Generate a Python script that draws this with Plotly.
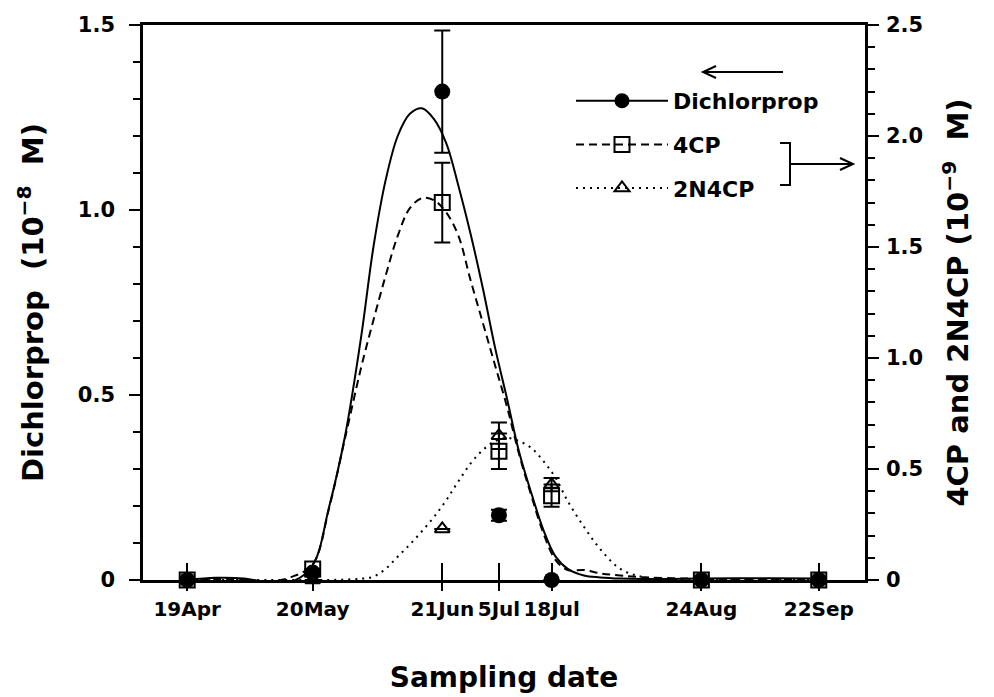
import plotly.graph_objects as go

# ---------------- data ----------------
sample_dates = ["2001-04-19", "2001-05-20", "2001-06-21", "2001-07-05",
                "2001-07-18", "2001-08-24", "2001-09-22"]
tick_labels = ["19Apr", "20May", "21Jun", "5Jul", "18Jul", "24Aug", "22Sep"]

dichlorprop = [0, 0.02, 1.32, 0.175, 0, 0, 0]
dichlorprop_err = [0, 0.01, 0.165, 0.015, 0, 0, 0]
cp4 = [0, 0.05, 1.70, 0.58, 0.38, 0, 0]
cp4_err = [0, 0, 0.18, 0.08, 0.05, 0, 0]
n2cp4 = [0, 0, 0.23, 0.65, 0.43, 0, 0]
n2cp4_err = [0, 0, 0, 0.06, 0.03, 0, 0]

curve_dates = ["2001-04-19", "2001-04-26", "2001-05-03", "2001-05-10", "2001-05-15",
               "2001-05-20", "2001-05-24", "2001-05-28", "2001-06-01", "2001-06-04",
               "2001-06-07", "2001-06-10", "2001-06-13", "2001-06-16", "2001-06-19",
               "2001-06-22", "2001-06-25", "2001-06-28", "2001-07-01", "2001-07-04",
               "2001-07-07", "2001-07-10", "2001-07-13", "2001-07-16", "2001-07-19",
               "2001-07-22", "2001-07-26", "2001-07-30", "2001-08-04", "2001-08-10",
               "2001-08-17", "2001-08-24", "2001-09-01", "2001-09-10", "2001-09-22"]
dichlorprop_fit = [0, 0.006, 0.004, -0.008, -0.004, 0.04, 0.195, 0.39, 0.66, 0.9,
                   1.08, 1.2, 1.26, 1.275, 1.245, 1.18, 1.065, 0.935, 0.79, 0.63,
                   0.49, 0.345, 0.235, 0.135, 0.063, 0.03, 0.012, 0.007, 0.004, 0.003,
                   0.003, 0.004, 0.005, 0.005, 0.004]
cp4_fit = [0, 0.005, 0, -0.005, 0.015, 0.07, 0.32, 0.64, 0.96, 1.17,
           1.37, 1.55, 1.675, 1.72, 1.71, 1.655, 1.55, 1.35, 1.16, 0.97,
           0.78, 0.565, 0.38, 0.21, 0.09, 0.045, 0.045, 0.03, 0.02, 0.012,
           0.008, 0.005, 0.004, 0.004, 0.003]
n2cp4_fit = [0, 0, 0, 0, 0, 0, 0, 0.002, 0.006, 0.015,
             0.05, 0.105, 0.16, 0.22, 0.285, 0.36, 0.445, 0.525, 0.585, 0.625,
             0.64, 0.625, 0.595, 0.535, 0.46, 0.355, 0.24, 0.14, 0.05, 0.012,
             0.005, 0.003, 0.002, 0.002, 0.001]

left_ticks = [0, 0.5, 1.0, 1.5]
left_ticktext = ["0", "0.5", "1.0", "1.5"]
right_ticks = [0, 0.5, 1.0, 1.5, 2.0, 2.5]
right_ticktext = ["0", "0.5", "1.0", "1.5", "2.0", "2.5"]

x_range = ["2001-04-08 02:00", "2001-10-03 10:00"]

FONT = "DejaVu Sans, Verdana, sans-serif"
BLACK = "black"
NB = "\u00a0"

# plot area on screen (page has an 8px body margin)
L, R, T, B = 143, 865, 25, 580


def px(x):
    return (x - L) / (R - L)


def py(y):
    return (B - y) / (B - T)


fig = go.Figure()

# fitted curves
fig.add_trace(go.Scatter(x=curve_dates, y=dichlorprop_fit, mode="lines",
                         line=dict(color=BLACK, width=2, shape="spline", smoothing=1.0),
                         showlegend=False, yaxis="y", cliponaxis=False, hoverinfo="skip"))
fig.add_trace(go.Scatter(x=curve_dates, y=cp4_fit, mode="lines",
                         line=dict(color=BLACK, width=2, dash="8px,5px", shape="spline", smoothing=1.0),
                         showlegend=False, yaxis="y2", cliponaxis=False, hoverinfo="skip"))
fig.add_trace(go.Scatter(x=curve_dates, y=n2cp4_fit, mode="lines",
                         line=dict(color=BLACK, width=2, dash="2px,5px", shape="spline", smoothing=1.0),
                         showlegend=False, yaxis="y2", cliponaxis=False, hoverinfo="skip"))

err_style = dict(type="data", color=BLACK, thickness=2, width=8)

# measured points
fig.add_trace(go.Scatter(x=sample_dates, y=n2cp4, mode="markers", yaxis="y2",
                         marker=dict(symbol="triangle-up-open", size=13, color=BLACK,
                                     line=dict(width=2, color=BLACK)),
                         error_y=dict(array=n2cp4_err, **err_style),
                         showlegend=False, cliponaxis=False))
fig.add_trace(go.Scatter(x=sample_dates, y=cp4, mode="markers", yaxis="y2",
                         marker=dict(symbol="square-open", size=15, color=BLACK,
                                     line=dict(width=2, color=BLACK)),
                         error_y=dict(array=cp4_err, **err_style),
                         showlegend=False, cliponaxis=False))
fig.add_trace(go.Scatter(x=sample_dates, y=dichlorprop, mode="markers", yaxis="y",
                         marker=dict(symbol="circle", size=16, color=BLACK),
                         error_y=dict(array=dichlorprop_err, **err_style),
                         showlegend=False, cliponaxis=False))

# legend entries
fig.add_trace(go.Scatter(x=[None], y=[None], mode="lines+markers", name="Dichlorprop",
                         line=dict(color=BLACK, width=2),
                         marker=dict(symbol="circle", size=15, color=BLACK),
                         legendgroup="a"))
fig.add_trace(go.Scatter(x=[None], y=[None], mode="lines+markers", name="4CP",
                         line=dict(color=BLACK, width=2, dash="8px,5px"),
                         marker=dict(symbol="square-open", size=15, color=BLACK,
                                     line=dict(width=2, color=BLACK)),
                         legendgroup="b"))
fig.add_trace(go.Scatter(x=[None], y=[None], mode="lines+markers", name="2N4CP",
                         line=dict(color=BLACK, width=2, dash="2px,5px"),
                         marker=dict(symbol="triangle-up-open", size=13, color=BLACK,
                                     line=dict(width=2, color=BLACK)),
                         legendgroup="c"))

# helper trace for the inside (upward) x ticks
fig.add_trace(go.Scatter(x=[None], y=[None], xaxis="x2", yaxis="y",
                         showlegend=False, hoverinfo="skip"))

xtickfont = dict(family=FONT, size=20, color=BLACK, weight="bold")
ytickfont = dict(family=FONT, size=21, color=BLACK, weight="bold")
xtitlefont = dict(family=FONT, size=28, color=BLACK, weight="bold")
ytitlefont = dict(family=FONT, size=29, color=BLACK, weight="bold")

fig.update_layout(
    width=994, height=697,
    margin=dict(l=L - 8, r=994 + 8 - R, t=T - 8, b=697 + 8 - B),
    paper_bgcolor="white", plot_bgcolor="white",
    font=dict(family=FONT, color=BLACK),
    xaxis=dict(type="date", range=x_range, tickvals=sample_dates, ticktext=tick_labels,
               ticks="outside", ticklen=8, tickwidth=2, tickcolor=BLACK, tickangle=0,
               showline=True, linewidth=2.5, linecolor=BLACK, mirror=True, automargin=False,
               showgrid=False, zeroline=False, tickfont=xtickfont, ticklabelstandoff=1,
               title=dict(text="Sampling date", font=xtitlefont, standoff=48)),
    xaxis2=dict(type="date", range=x_range, tickvals=sample_dates, overlaying="x",
                anchor="y", side="bottom", ticks="inside", ticklen=17, tickwidth=2,
                tickcolor=BLACK, showticklabels=False, showline=False, showgrid=False,
                zeroline=False, automargin=False),
    yaxis=dict(range=[0, 1.5], tickvals=left_ticks, ticktext=left_ticktext,
               ticks="outside", ticklen=11, tickwidth=2, tickcolor=BLACK, automargin=False,
               minor=dict(ticks="outside", ticklen=7, tickwidth=2, tickcolor=BLACK,
                          tickvals=[0.1, 0.2, 0.3, 0.4, 0.6, 0.7, 0.8, 0.9, 1.1, 1.2, 1.3, 1.4]),
               showline=True, linewidth=2.5, linecolor=BLACK, showgrid=False,
               zeroline=False, tickfont=ytickfont, ticklabelstandoff=10,
               title=dict(text=f"Dichlorprop{NB}{NB}(10<sup>\u22128</sup>{NB}{NB}M)",
                          font=ytitlefont, standoff=26)),
    yaxis2=dict(range=[0, 2.5], tickvals=right_ticks, ticktext=right_ticktext,
                overlaying="y", side="right", anchor="x", automargin=False,
                ticks="outside", ticklen=11, tickwidth=2, tickcolor=BLACK,
                minor=dict(ticks="outside", ticklen=7, tickwidth=2, tickcolor=BLACK,
                           tickvals=[0.1, 0.2, 0.3, 0.4, 0.6, 0.7, 0.8, 0.9, 1.1, 1.2, 1.3, 1.4,
                                     1.6, 1.7, 1.8, 1.9, 2.1, 2.2, 2.3, 2.4]),
                showline=True, linewidth=2.5, linecolor=BLACK, showgrid=False,
                zeroline=False, tickfont=ytickfont, ticklabelstandoff=3,
                title=dict(text=f"4CP and 2N4CP{NB}(10<sup>\u22129</sup>{NB}{NB}M)",
                           font=ytitlefont, standoff=26)),
    legend=dict(x=px(571), y=py(80), xanchor="left", yanchor="top",
                bgcolor="rgba(0,0,0,0)",
                font=dict(family=FONT, size=22, color=BLACK, weight="bold"),
                itemwidth=92, tracegroupgap=12, traceorder="grouped"),
    showlegend=True,
)

# arrows and bracket next to the legend
arrow_line = dict(color=BLACK, width=2)
fig.add_shape(type="line", xref="paper", yref="paper",
              x0=px(703), y0=py(72), x1=px(783), y1=py(72), line=arrow_line)
fig.add_shape(type="path", xref="paper", yref="paper",
              path=f"M {px(716)},{py(66)} L {px(703)},{py(72)} L {px(716)},{py(78)}",
              line=arrow_line)
fig.add_shape(type="path", xref="paper", yref="paper",
              path=f"M {px(780)},{py(143)} L {px(790)},{py(143)} L {px(790)},{py(185)} L {px(780)},{py(185)}",
              line=arrow_line)
fig.add_shape(type="line", xref="paper", yref="paper",
              x0=px(790), y0=py(164), x1=px(853), y1=py(164), line=arrow_line)
fig.add_shape(type="path", xref="paper", yref="paper",
              path=f"M {px(840)},{py(158)} L {px(853)},{py(164)} L {px(840)},{py(170)}",
              line=arrow_line)

fig.write_html("out.html")
